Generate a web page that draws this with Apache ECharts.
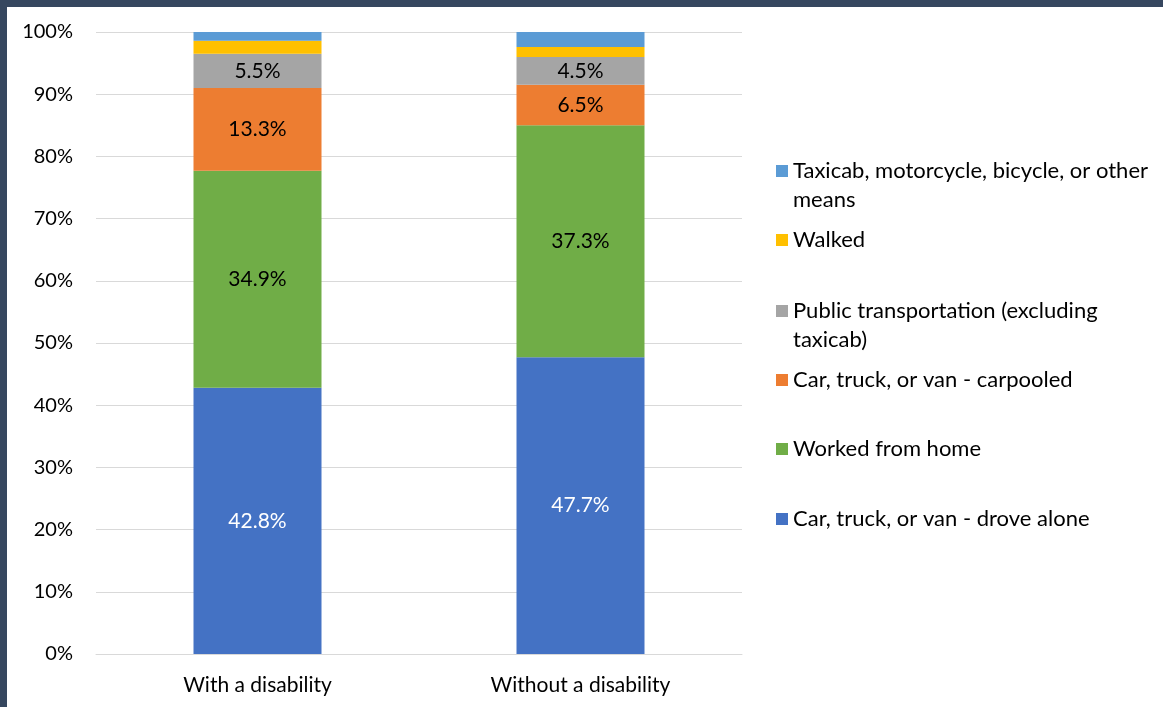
<!DOCTYPE html>
<html>
<head>
<meta charset="utf-8">
<script src="https://cdn.jsdelivr.net/npm/echarts@6/dist/echarts.min.js"></script>
<style>
html,body{margin:0;padding:0;width:1163px;height:707px;overflow:hidden;background:#36475f;}
#wrap{position:absolute;left:0;top:0;width:1163px;height:707px;background:#36475f;}
#c{position:absolute;left:7px;top:7px;width:1156px;height:700px;background:#ffffff;}
</style>
</head>
<body>
<div id="wrap"><div id="c"></div></div>
<script>
const categories = ['With a disability', 'Without a disability'];
const droveAlone = [42.8, 47.7];
const workedFromHome = [34.9, 37.3];
const carpooled = [13.3, 6.5];
const publicTransport = [5.5, 4.5];
const walked = [2.1, 1.6];
const taxiOther = [1.4, 2.4];
const yTicks = [0, 10, 20, 30, 40, 50, 60, 70, 80, 90, 100];

const names = {
  drove: 'Car, truck, or van - drove alone',
  wfh: 'Worked from home',
  carpool: 'Car, truck, or van - carpooled',
  pub: 'Public transportation (excluding taxicab)',
  walk: 'Walked',
  taxi: 'Taxicab, motorcycle, bicycle, or other means'
};

const FONT = 'Lato';
const chart = echarts.init(document.getElementById('c'));

function mk(name, data, color, labelColor) {
  return {
    name: name, type: 'bar', stack: 'total', data: data,
    barWidth: 128,
    itemStyle: { color: color },
    label: labelColor ? {
      show: true, position: 'inside', color: labelColor,
      fontFamily: FONT, fontSize: 21,
      formatter: p => p.value.toFixed(1) + '%'
    } : { show: false },
    emphasis: { disabled: true }
  };
}

const LH = 29;
function leg(name, centerY, twoLine) {
  return {
    show: true, data: [name], orient: 'vertical', padding: 0,
    left: 776 - 7, top: twoLine ? centerY - 7 - 1.5 * LH : centerY - 7 - LH / 2,
    itemWidth: 12, itemHeight: 12, itemGap: 0,
    icon: 'rect', selectedMode: false,
    formatter: function (n) {
      if (n === names.taxi) return '\nTaxicab, motorcycle, bicycle, or other\nmeans';
      if (n === names.pub) return '\nPublic transportation (excluding\ntaxicab)';
      return n;
    },
    textStyle: { fontFamily: FONT, fontSize: 22, color: '#000', lineHeight: LH }
  };
}

chart.setOption({
  animation: false,
  grid: { left: 96 - 7, right: 1163 - 742, top: 32 - 7, bottom: 707 - 654, containLabel: false },
  xAxis: {
    type: 'category', data: categories,
    axisLine: { show: true, lineStyle: { color: '#d9d9d9', width: 1 } },
    axisTick: { show: false },
    axisLabel: { color: '#000', fontFamily: FONT, fontSize: 21, margin: 21 }
  },
  yAxis: {
    type: 'value', min: yTicks[0], max: yTicks[yTicks.length - 1], interval: 10,
    axisLine: { show: false }, axisTick: { show: false },
    splitLine: { lineStyle: { color: '#d9d9d9', width: 1 } },
    axisLabel: { color: '#000', fontFamily: FONT, fontSize: 20, margin: 23, formatter: '{value}%' }
  },
  legend: [
    leg(names.taxi, 171, true),
    leg(names.walk, 240, false),
    leg(names.pub, 311, true),
    leg(names.carpool, 380, false),
    leg(names.wfh, 449, false),
    leg(names.drove, 519, false)
  ],
  series: [
    mk(names.drove, droveAlone, '#4472c4', '#ffffff'),
    mk(names.wfh, workedFromHome, '#70ad47', '#000000'),
    mk(names.carpool, carpooled, '#ed7d31', '#000000'),
    mk(names.pub, publicTransport, '#a5a5a5', '#000000'),
    mk(names.walk, walked, '#ffc000', null),
    mk(names.taxi, taxiOther, '#5b9bd5', null)
  ]
});
</script>
</body>
</html>
